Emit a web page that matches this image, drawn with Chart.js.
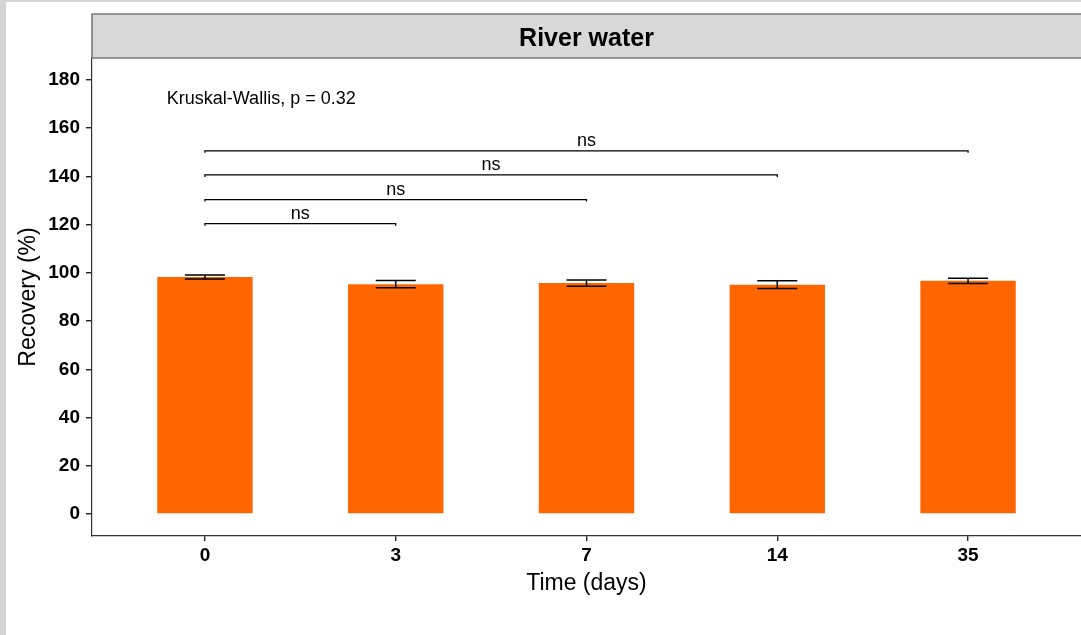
<!DOCTYPE html>
<html>
<head>
<meta charset="utf-8">
<script src="https://cdn.jsdelivr.net/npm/chart.js@4/dist/chart.umd.min.js"></script>
<style>
  html, body { margin: 0; padding: 0; background: #fff; }
  canvas { display: block; }
</style>
</head>
<body>
<canvas id="chart" width="1081" height="635" style="width:1081px;height:635px"></canvas>
<script>
// Recovery of the analyte in river water over storage time
const panelTitle = 'River water';
const days = ['0', '3', '7', '14', '35'];
const recovery = [98.3, 95.3, 95.8, 95.1, 96.7];
const recoverySd = [0.8, 1.5, 1.3, 1.6, 1.1];
const yTicks = [0, 20, 40, 60, 80, 100, 120, 140, 160, 180];

// Pairwise comparisons against day 0
const comparisonFrom = [0, 0, 0, 0];
const comparisonTo = [1, 2, 3, 4];
const comparisonY = [120.4, 130.4, 140.6, 150.6];
const comparisonLabels = ['ns', 'ns', 'ns', 'ns'];
const testLabel = 'Kruskal-Wallis, p = 0.32';
const testLabelPos = [-0.2, 169.9];

const FONT = "'Liberation Sans', Arial, Helvetica, sans-serif";
Chart.defaults.font.family = FONT;
Chart.defaults.color = '#000';

const decorations = {
  id: 'decorations',
  beforeDraw(chart) {
    const ctx = chart.ctx;
    ctx.save();
    ctx.fillStyle = '#d4d4d4';
    ctx.fillRect(0, 0, chart.width, 2);
    ctx.fillRect(0, 0, 6, chart.height);
    ctx.restore();
  },
  afterDatasetsDraw(chart) {
    const { ctx, chartArea: a, scales: { x, y } } = chart;
    ctx.save();

    // facet strip
    const stripTop = 14;
    ctx.fillStyle = '#d9d9d9';
    ctx.fillRect(a.left, stripTop, chart.width - a.left, a.top - stripTop);
    ctx.strokeStyle = '#7a7a7a';
    ctx.lineWidth = 1.6;
    ctx.beginPath();
    ctx.moveTo(chart.width, stripTop);
    ctx.lineTo(a.left, stripTop);
    ctx.lineTo(a.left, a.top);
    ctx.lineTo(chart.width, a.top);
    ctx.stroke();
    ctx.fillStyle = '#000';
    ctx.font = 'bold 25px ' + FONT;
    ctx.textAlign = 'center';
    ctx.textBaseline = 'alphabetic';
    ctx.fillText(panelTitle, (a.left + x.getPixelForValue(x.max)) / 2, 46);

    // error bars (mean ± sd)
    ctx.strokeStyle = '#000';
    ctx.lineWidth = 1.5;
    recovery.forEach((m, i) => {
      const cx = x.getPixelForValue(i);
      const hw = x.getPixelForValue(i + 0.105) - cx;
      const yt = y.getPixelForValue(m + recoverySd[i]);
      const yb = y.getPixelForValue(m - recoverySd[i]);
      ctx.beginPath();
      ctx.moveTo(cx - hw, yt); ctx.lineTo(cx + hw, yt);
      ctx.moveTo(cx, yt); ctx.lineTo(cx, yb);
      ctx.moveTo(cx - hw, yb); ctx.lineTo(cx + hw, yb);
      ctx.stroke();
    });

    // significance brackets
    ctx.lineWidth = 1.3;
    ctx.font = '18px ' + FONT;
    ctx.textAlign = 'center';
    ctx.textBaseline = 'alphabetic';
    comparisonFrom.forEach((from, k) => {
      const x1 = x.getPixelForValue(from);
      const x2 = x.getPixelForValue(comparisonTo[k]);
      const yy = y.getPixelForValue(comparisonY[k]);
      ctx.beginPath();
      ctx.moveTo(x1, yy + 2); ctx.lineTo(x1, yy);
      ctx.lineTo(x2, yy); ctx.lineTo(x2, yy + 2);
      ctx.stroke();
      ctx.fillText(comparisonLabels[k], (x1 + x2) / 2, yy - 4.5);
    });

    // global test
    ctx.textAlign = 'left';
    ctx.fillText(testLabel, x.getPixelForValue(testLabelPos[0]), y.getPixelForValue(testLabelPos[1]));

    ctx.restore();
  }
};

new Chart(document.getElementById('chart'), {
  type: 'bar',
  data: {
    datasets: [{
      data: recovery.map((v, i) => ({ x: i, y: v })),
      backgroundColor: '#ff6600',
      borderWidth: 0,
      barPercentage: 0.5,
      categoryPercentage: 1
    }]
  },
  options: {
    responsive: false,
    animation: false,
    layout: { padding: { top: 58, left: 0, right: 0, bottom: 0 } },
    plugins: { legend: { display: false }, tooltip: { enabled: false } },
    scales: {
      x: {
        type: 'linear',
        offset: false,
        bounds: 'data',
        min: -0.592,
        max: 4.592,
        afterBuildTicks: s => { s.ticks = days.map((_, i) => ({ value: i })); },
        afterFit: s => { s.height = 99; },
        ticks: {
          autoSkip: false,
          maxRotation: 0,
          padding: 3,
          color: '#000',
          font: { size: 19, weight: 'bold' },
          callback: v => days[v]
        },
        grid: { display: true, offset: false, drawOnChartArea: false, drawTicks: true, tickLength: 5, color: '#222', lineWidth: 1.4 },
        border: { display: true, color: '#333', width: 1.2 },
        title: { display: true, text: 'Time (days)', color: '#000', font: { size: 23 }, padding: { top: 0, bottom: 38 } }
      },
      y: {
        type: 'linear',
        bounds: 'data',
        min: -9.1,
        max: 189.1,
        afterBuildTicks: s => { s.ticks = yTicks.map(v => ({ value: v })); },
        afterFit: s => { s.width = 92; },
        ticks: {
          padding: 6,
          color: '#000',
          font: { size: 19, weight: 'bold' }
        },
        grid: { display: true, drawOnChartArea: false, drawTicks: true, tickLength: 6, color: '#222', lineWidth: 1.4 },
        border: { display: true, color: '#333', width: 1.2 },
        title: { display: true, text: 'Recovery (%)', color: '#000', font: { size: 23 }, padding: { top: 15, bottom: 0 } }
      }
    }
  },
  plugins: [decorations]
});
</script>
</body>
</html>
